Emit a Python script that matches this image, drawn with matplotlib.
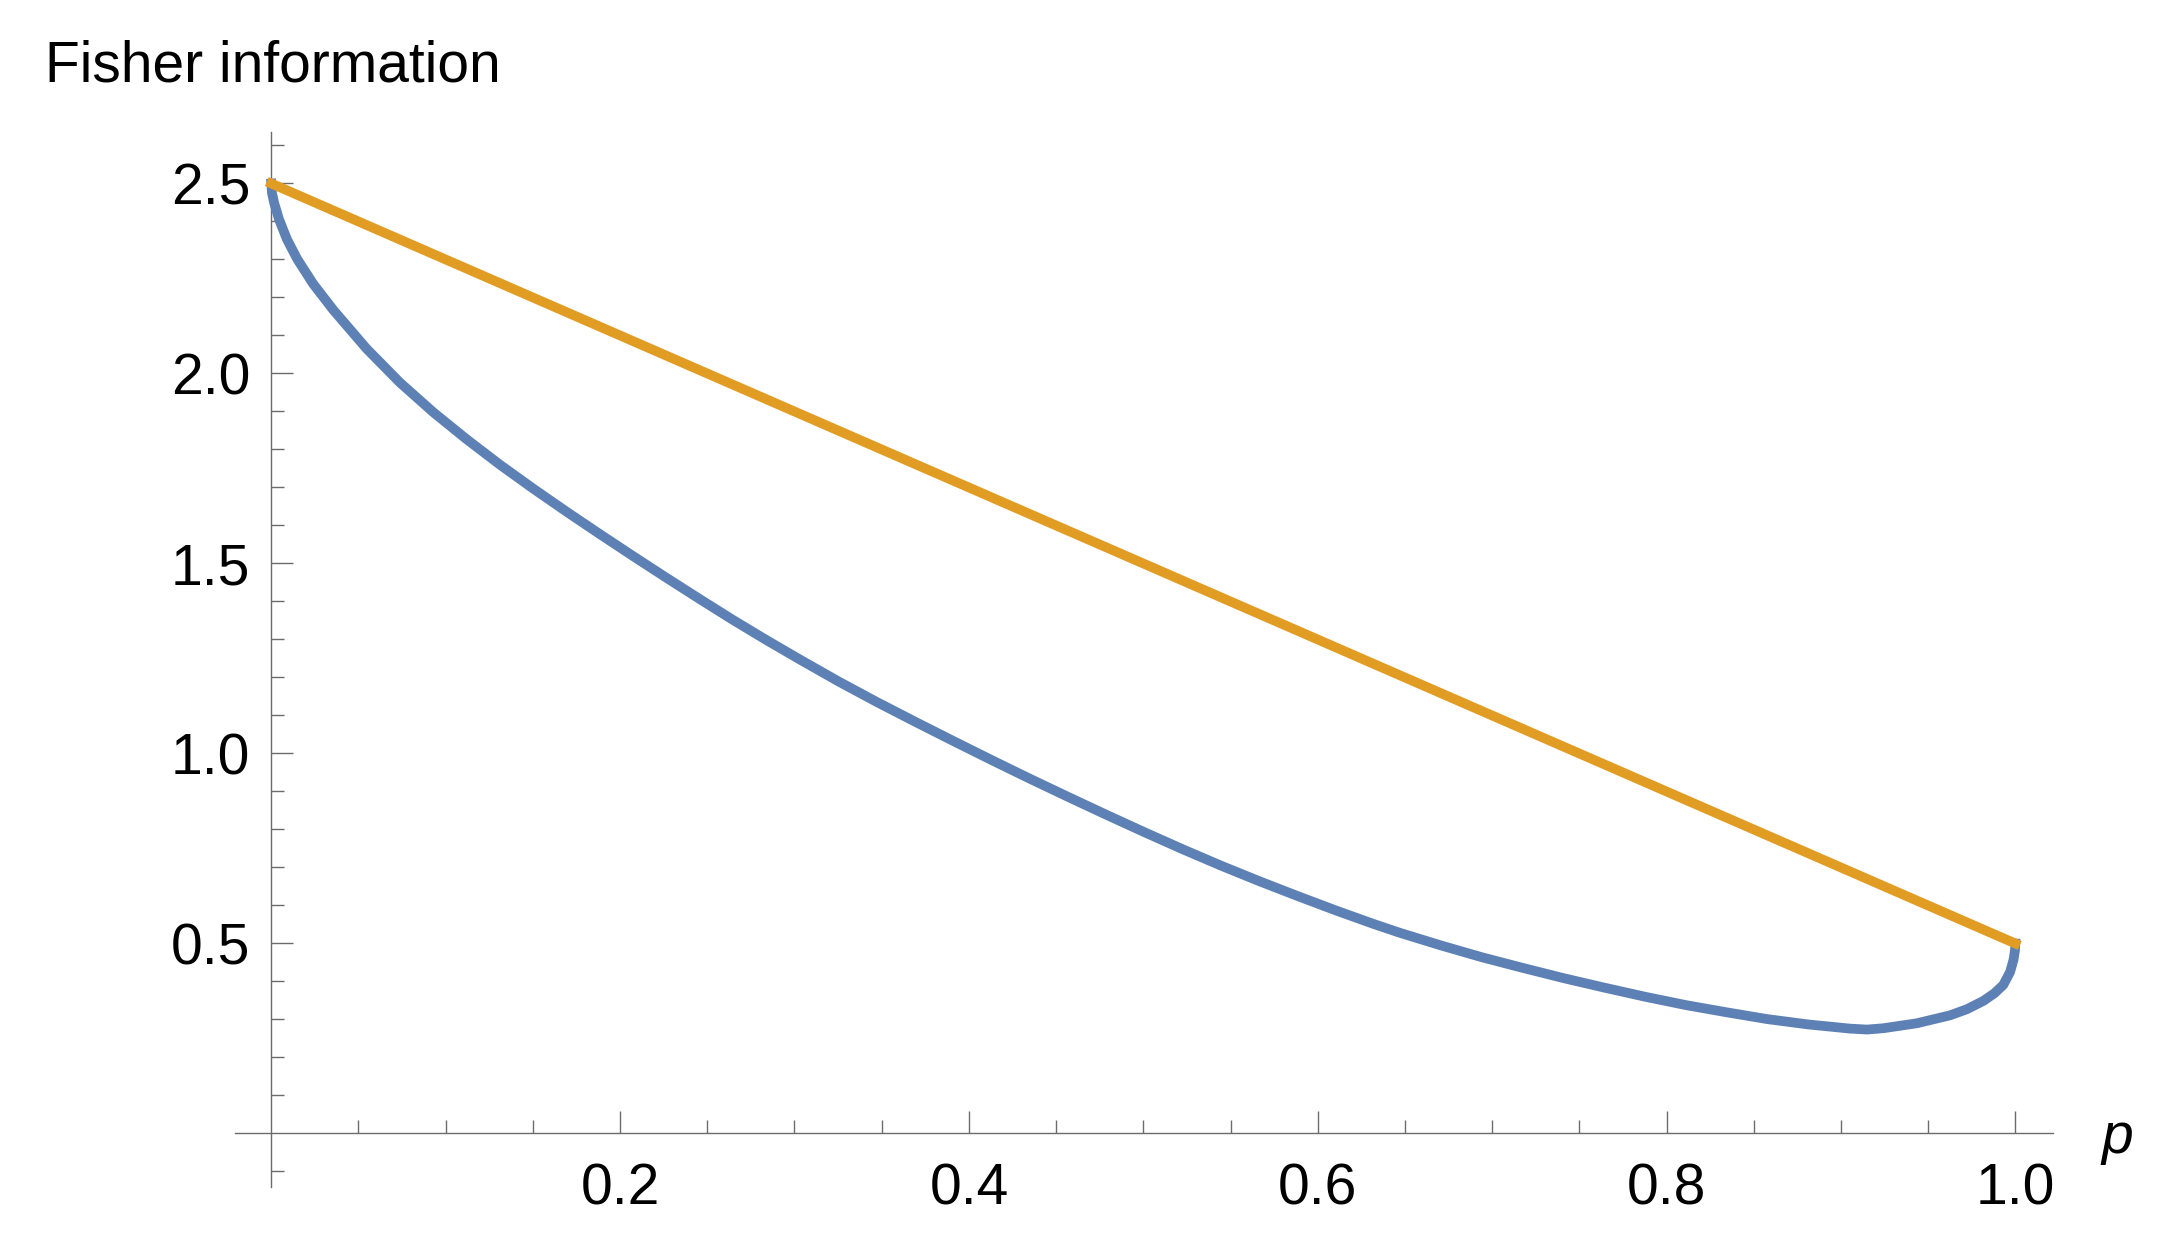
import numpy as np
import matplotlib
matplotlib.use("Agg")
import matplotlib.pyplot as plt

plt.rcParams['font.family'] = ['Liberation Sans', 'DejaVu Sans']

# blue curve
p_blue = [0.0000, 0.0004, 0.0017, 0.0045, 0.0090, 0.0149, 0.0240, 0.0356,
          0.0547, 0.0738, 0.0929, 0.1120, 0.1311, 0.1502, 0.1694, 0.1885,
          0.2076, 0.2267, 0.2458, 0.2649, 0.2841, 0.3032, 0.3251, 0.3470,
          0.3690, 0.3910, 0.4129, 0.4348, 0.4568, 0.4787, 0.5006, 0.5226,
          0.5445, 0.5665, 0.5884, 0.6104, 0.6323, 0.6472, 0.6706, 0.6940,
          0.7174, 0.7408, 0.7642, 0.7876, 0.8110, 0.8344, 0.8578, 0.8812,
          0.9052, 0.9150, 0.9243, 0.9435, 0.9626, 0.9722, 0.9817, 0.9880,
          0.9931, 0.9970, 0.9990, 0.9998, 1.0000]
fisher_blue = [2.500, 2.475, 2.448, 2.405, 2.353, 2.301, 2.236, 2.167,
               2.065, 1.976, 1.898, 1.827, 1.760, 1.697, 1.636, 1.577,
               1.519, 1.462, 1.406, 1.351, 1.298, 1.247, 1.190, 1.136,
               1.084, 1.033, 0.983, 0.934, 0.886, 0.839, 0.793, 0.748,
               0.705, 0.664, 0.625, 0.587, 0.551, 0.528, 0.495, 0.464,
               0.436, 0.409, 0.384, 0.360, 0.338, 0.319, 0.301, 0.287,
               0.276, 0.2735, 0.277, 0.290, 0.311, 0.327, 0.349, 0.369,
               0.391, 0.425, 0.458, 0.482, 0.500]

# orange straight line
p_orange = [0.0, 1.0]
fisher_orange = [2.5, 0.5]

x_major = [0.2, 0.4, 0.6, 0.8, 1.0]
x_labels = ['0.2', '0.4', '0.6', '0.8', '1.0']
x_minor = [0.05, 0.1, 0.15, 0.25, 0.3, 0.35, 0.45, 0.5, 0.55, 0.65, 0.7,
           0.75, 0.85, 0.9, 0.95]
y_major = [0.5, 1.0, 1.5, 2.0, 2.5]
y_labels = ['0.5', '1.0', '1.5', '2.0', '2.5']
y_minor = [-0.1, 0.1, 0.2, 0.3, 0.4, 0.6, 0.7, 0.8, 0.9, 1.1, 1.2, 1.3, 1.4,
           1.6, 1.7, 1.8, 1.9, 2.1, 2.2, 2.3, 2.4, 2.6]

W, H = 2169, 1248
fig = plt.figure(figsize=(W / 100, H / 100), dpi=100)
ax = fig.add_axes([235 / W, 1 - 1187 / H, (2053 - 235) / W, (1187 - 132) / H])

ax.plot(p_blue, fisher_blue, color='#5E81B5', lw=7, zorder=3,
        solid_joinstyle='round')
ax.plot(p_orange, fisher_orange, color='#E19C24', lw=7, zorder=4)

ax.set_xlim(-0.0208, 1.0216)
ax.set_ylim(-0.1408, 2.6355)

axis_col = '#6b6b6b'
for side in ['top', 'right']:
    ax.spines[side].set_visible(False)
for side in ['left', 'bottom']:
    ax.spines[side].set_position(('data', 0))
    ax.spines[side].set_color(axis_col)
    ax.spines[side].set_linewidth(1.0)

ax.set_xticks(x_major)
ax.set_xticklabels(x_labels)
ax.set_xticks(x_minor, minor=True)
ax.set_yticks(y_major)
ax.set_yticklabels(y_labels)
ax.set_yticks(y_minor, minor=True)

ax.tick_params(which='both', direction='in', color=axis_col, width=1.0,
               labelsize=41)
ax.tick_params(which='major', length=15.8)
ax.tick_params(which='minor', length=9.6)
ax.tick_params(axis='x', which='major', pad=21)
ax.tick_params(axis='y', which='major', pad=15)

fig.text(45 / W, 1 - 82 / H, 'Fisher information', fontsize=41,
         va='baseline', ha='left')
fig.text(2101 / W, 1 - 1153 / H, 'p', fontsize=41, style='italic',
         va='baseline', ha='left')

fig.savefig('out.png', dpi=100)
